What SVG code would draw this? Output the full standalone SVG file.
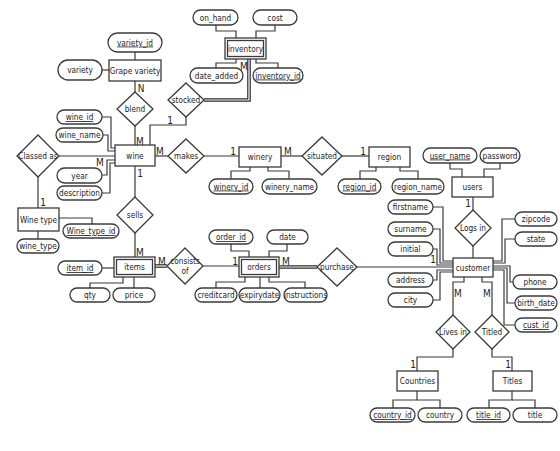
<svg xmlns="http://www.w3.org/2000/svg" width="560" height="451" viewBox="0 0 560 451">
<style>
.a{fill:#fff;stroke:#3a3a3a;stroke-width:1.3}
.e{fill:#fff;stroke:#3a3a3a;stroke-width:1.3}
.r{fill:#fff;stroke:#3a3a3a;stroke-width:1.3}
.c{fill:none;stroke:#3a3a3a;stroke-width:1.2}
.d1{fill:none;stroke:#2a2a2a;stroke-width:3.6}
.d2{fill:none;stroke:#fff;stroke-width:1.2}
text{font-family:"Liberation Sans Narrow","DejaVu Sans Condensed","Liberation Sans",sans-serif;font-size:8.2px;fill:#222;text-anchor:middle}
.k{text-decoration:underline}
.lb{font-size:10px}
</style>
<rect width="560" height="451" fill="#fff"/>
<g id="connectors">
<polyline class="c" points="135,52 135,60"/>
<polyline class="c" points="102,70 109,70"/>
<polyline class="c" points="135,81 135,92"/>
<polyline class="c" points="135,126 135,145"/>
<polyline class="c" points="150,145 150,125 186,125 186,117"/>
<polyline class="c" points="216,25 216,31 236,31 236,38"/>
<polyline class="c" points="275,25 275,31 256,31 256,38"/>
<polyline class="c" points="216,68 216,63 236,63 236,59"/>
<polyline class="c" points="278,68 278,63 256,63 256,59"/>
<polyline class="c" points="102,117 111,117 111,148 115,148"/>
<polyline class="c" points="103,135 108,135 108,151 115,151"/>
<polyline class="c" points="59,156 115,156"/>
<polyline class="c" points="102,175 107,175 107,160 115,160"/>
<polyline class="c" points="102,193 110,193 110,163 115,163"/>
<polyline class="c" points="38,177 38,208"/>
<polyline class="c" points="59,218 92,218 92,224"/>
<polyline class="c" points="38,231 38,239"/>
<polyline class="c" points="155,156 168,156"/>
<polyline class="c" points="204,156 239,156"/>
<polyline class="c" points="281,156 302,156"/>
<polyline class="c" points="342,156 369,156"/>
<polyline class="c" points="250,167 250,171 231,171 231,179"/>
<polyline class="c" points="268,167 268,171 289,171 289,179"/>
<polyline class="c" points="376,167 376,171 360,171 360,179"/>
<polyline class="c" points="400,167 400,171 418,171 418,179"/>
<polyline class="c" points="450,163 450,169 462,169 462,177"/>
<polyline class="c" points="500,163 500,169 484,169 484,177"/>
<polyline class="c" points="473,197 473,210"/>
<polyline class="c" points="473,246 473,258"/>
<polyline class="c" points="135,166 135,197"/>
<polyline class="c" points="135,233 135,257"/>
<polyline class="c" points="102,268 114,268"/>
<polyline class="c" points="90,288 90,283 123,283 123,277"/>
<polyline class="c" points="134,288 134,277"/>
<polyline class="c" points="203,266 239,266"/>
<polyline class="c" points="231,244 231,251 249,251 249,257"/>
<polyline class="c" points="287,244 287,251 269,251 269,257"/>
<polyline class="c" points="216,288 216,282 245,282 245,277"/>
<polyline class="c" points="260,277 260,288"/>
<polyline class="c" points="305,288 305,282 269,282 269,277"/>
<polyline class="c" points="357,267 453,267"/>
<polyline class="c" points="433,207 443,207 443,261 453,261"/>
<polyline class="c" points="433,229 440,229 440,263 453,263"/>
<polyline class="c" points="433,249 437,249 437,265 453,265"/>
<polyline class="c" points="433,280 437,280 437,270 453,270"/>
<polyline class="c" points="433,300 440,300 440,272 453,272"/>
<polyline class="c" points="515,219 502,219 502,261 493,261"/>
<polyline class="c" points="515,239 505,239 505,263 493,263"/>
<polyline class="c" points="493,266 510,266 510,282 513,282"/>
<polyline class="c" points="493,268 507,268 507,303 515,303"/>
<polyline class="c" points="493,270 504,270 504,325 515,325"/>
<polyline class="c" points="464,277 464,282 453,282 453,315"/>
<polyline class="c" points="482,277 482,282 492,282 492,315"/>
<polyline class="c" points="453,349 453,357 417,357 417,371"/>
<polyline class="c" points="492,349 492,357 512,357 512,371"/>
<polyline class="c" points="417,391 417,400 393,400 393,408"/>
<polyline class="c" points="417,400 440,400 440,408"/>
<polyline class="c" points="512,391 512,400 489,400 489,408"/>
<polyline class="c" points="512,400 535,400 535,408"/>
<polyline class="d1" points="204,100 249,100 249,59"/>
<polyline class="d2" points="204,100 249,100 249,59"/>
<polyline class="d1" points="155,266 167,266"/>
<polyline class="d2" points="155,266 167,266"/>
<polyline class="d1" points="279,267 317,267"/>
<polyline class="d2" points="279,267 317,267"/>
<text class="lb" x="141" y="92">N</text>
<text class="lb" x="140" y="145">M</text>
<text class="lb" x="170" y="124">1</text>
<text class="lb" x="244" y="70">M</text>
<text class="lb" x="160" y="155">M</text>
<text class="lb" x="233" y="155">1</text>
<text class="lb" x="288" y="155">M</text>
<text class="lb" x="363" y="155">1</text>
<text class="lb" x="100" y="166">M</text>
<text class="lb" x="43" y="206">1</text>
<text class="lb" x="140" y="177">1</text>
<text class="lb" x="140" y="256">M</text>
<text class="lb" x="162" y="265">M</text>
<text class="lb" x="235" y="265">1</text>
<text class="lb" x="286" y="265">M</text>
<text class="lb" x="433" y="263">1</text>
<text class="lb" x="468" y="207">1</text>
<text class="lb" x="458" y="297">M</text>
<text class="lb" x="487" y="297">M</text>
<text class="lb" x="413" y="368">1</text>
<text class="lb" x="508" y="368">1</text>
</g>
<g id="variety_id"><rect class="a" x="108" y="33" width="54" height="19" rx="9.5"/><text class="k" x="135" y="45.5">variety_id</text></g>
<g id="variety"><rect class="a" x="58" y="60" width="44" height="20" rx="10"/><text x="80" y="73">variety</text></g>
<g id="grape_variety"><rect class="e" x="109" y="60" width="52" height="21"/><text x="135" y="73.5">Grape variety</text></g>
<g id="blend"><polygon class="r" points="135,92 153,109 135,126 117,109"/><text x="135" y="112">blend</text></g>
<g id="stocked"><polygon class="r" points="186,83 204,100 186,117 168,100"/><text x="186" y="103">stocked</text></g>
<g id="inventory"><rect class="e" x="225" y="38" width="41" height="21"/><rect class="e" x="227.5" y="40.5" width="36" height="16"/><text x="245.5" y="51.5">inventory</text></g>
<g id="on_hand"><rect class="a" x="193" y="10" width="45" height="15" rx="7.5"/><text x="215.5" y="20.5">on_hand</text></g>
<g id="cost"><rect class="a" x="253" y="10" width="44" height="15" rx="7.5"/><text x="275" y="20.5">cost</text></g>
<g id="date_added"><rect class="a" x="190" y="68" width="53" height="15" rx="7.5"/><text x="216.5" y="78.5">date_added</text></g>
<g id="inventory_id"><rect class="a" x="253" y="68" width="50" height="15" rx="7.5"/><text class="k" x="278" y="78.5">inventory_id</text></g>
<g id="wine_id"><rect class="a" x="57" y="110" width="45" height="14" rx="7"/><text class="k" x="79.5" y="120">wine_id</text></g>
<g id="wine_name"><rect class="a" x="56" y="128" width="47" height="14" rx="7"/><text x="79.5" y="138">wine_name</text></g>
<g id="year"><rect class="a" x="57" y="168" width="45" height="15" rx="7.5"/><text x="79.5" y="178.5">year</text></g>
<g id="description"><rect class="a" x="57" y="186" width="45" height="14" rx="7"/><text x="79.5" y="196">description</text></g>
<g id="wine"><rect class="e" x="115" y="145" width="40" height="21"/><text x="135" y="158.5">wine</text></g>
<g id="classed_as"><polygon class="r" points="38,135 59,156 38,177 17,156"/><text x="38" y="159">Classed as</text></g>
<g id="wine_type_entity"><rect class="e" x="18" y="208" width="41" height="23"/><text x="38.5" y="222.5">Wine type</text></g>
<g id="wine_type_id"><rect class="a" x="63" y="224" width="56" height="14" rx="7"/><text class="k" x="91" y="234">Wine_type_id</text></g>
<g id="wine_type"><rect class="a" x="17" y="239" width="42" height="14" rx="7"/><text x="38" y="249">wine_type</text></g>
<g id="makes"><polygon class="r" points="186,139 204,156 186,173 168,156"/><text x="186" y="159">makes</text></g>
<g id="winery"><rect class="e" x="239" y="147" width="42" height="20"/><text x="260" y="160">winery</text></g>
<g id="winery_id"><rect class="a" x="209" y="179" width="44" height="15" rx="7.5"/><text class="k" x="231" y="189.5">winery_id</text></g>
<g id="winery_name"><rect class="a" x="262" y="179" width="55" height="15" rx="7.5"/><text x="289.5" y="189.5">winery_name</text></g>
<g id="situated"><polygon class="r" points="322,137 342,156 322,175 302,156"/><text x="322" y="159">situated</text></g>
<g id="region"><rect class="e" x="369" y="147" width="41" height="20"/><text x="389.5" y="160">region</text></g>
<g id="region_id"><rect class="a" x="338" y="179" width="43" height="15" rx="7.5"/><text class="k" x="359.5" y="189.5">region_id</text></g>
<g id="region_name"><rect class="a" x="392" y="179" width="52" height="15" rx="7.5"/><text x="418" y="189.5">region_name</text></g>
<g id="user_name"><rect class="a" x="423" y="148" width="54" height="15" rx="7.5"/><text class="k" x="450" y="158.5">user_name</text></g>
<g id="password"><rect class="a" x="480" y="148" width="40" height="15" rx="7.5"/><text x="500" y="158.5">password</text></g>
<g id="users"><rect class="e" x="452" y="177" width="41" height="20"/><text x="472.5" y="190">users</text></g>
<g id="logs_in"><polygon class="r" points="473,210 491,228 473,246 455,228"/><text x="473" y="231">Logs in</text></g>
<g id="customer"><rect class="e" x="453" y="258" width="40" height="19"/><text x="473" y="270.5">customer</text></g>
<g id="firstname"><rect class="a" x="388" y="200" width="45" height="14" rx="7"/><text x="410.5" y="210">firstname</text></g>
<g id="surname"><rect class="a" x="388" y="222" width="45" height="14" rx="7"/><text x="410.5" y="232">surname</text></g>
<g id="initial"><rect class="a" x="388" y="242" width="45" height="14" rx="7"/><text x="410.5" y="252">initial</text></g>
<g id="address"><rect class="a" x="388" y="273" width="45" height="14" rx="7"/><text x="410.5" y="283">address</text></g>
<g id="city"><rect class="a" x="388" y="293" width="45" height="14" rx="7"/><text x="410.5" y="303">city</text></g>
<g id="zipcode"><rect class="a" x="515" y="212" width="42" height="14" rx="7"/><text x="536" y="222">zipcode</text></g>
<g id="state"><rect class="a" x="515" y="232" width="42" height="14" rx="7"/><text x="536" y="242">state</text></g>
<g id="phone"><rect class="a" x="513" y="275" width="44" height="14" rx="7"/><text x="535" y="285">phone</text></g>
<g id="birth_date"><rect class="a" x="515" y="296" width="42" height="14" rx="7"/><text x="536" y="306">birth_date</text></g>
<g id="cust_id"><rect class="a" x="515" y="318" width="42" height="14" rx="7"/><text class="k" x="536" y="328">cust_id</text></g>
<g id="sells"><polygon class="r" points="135,197 153,215 135,233 117,215"/><text x="135" y="218">sells</text></g>
<g id="items"><rect class="e" x="114" y="257" width="41" height="20"/><rect class="e" x="116.5" y="259.5" width="36" height="15"/><text x="134.5" y="270">items</text></g>
<g id="item_id"><rect class="a" x="58" y="261" width="44" height="14" rx="7"/><text class="k" x="80" y="271">item_id</text></g>
<g id="qty"><rect class="a" x="70" y="288" width="40" height="14" rx="7"/><text x="90" y="298">qty</text></g>
<g id="price"><rect class="a" x="113" y="288" width="42" height="14" rx="7"/><text x="134" y="298">price</text></g>
<g id="consists_of"><polygon class="r" points="185,248 203,266 185,284 167,266"/><text x="185" y="264">consists</text><text x="185" y="273.5">of</text></g>
<g id="orders"><rect class="e" x="239" y="257" width="40" height="20"/><rect class="e" x="241.5" y="259.5" width="35" height="15"/><text x="259" y="270">orders</text></g>
<g id="order_id"><rect class="a" x="209" y="230" width="44" height="14" rx="7"/><text class="k" x="231" y="240">order_id</text></g>
<g id="date"><rect class="a" x="267" y="230" width="41" height="14" rx="7"/><text x="287.5" y="240">date</text></g>
<g id="creditcard"><rect class="a" x="195" y="288" width="42" height="14" rx="7"/><text x="216" y="298">creditcard</text></g>
<g id="expirydate"><rect class="a" x="239" y="288" width="41" height="14" rx="7"/><text x="259.5" y="298">expirydate</text></g>
<g id="instructions"><rect class="a" x="284" y="288" width="43" height="14" rx="7"/><text x="305.5" y="298">instructions</text></g>
<g id="purchase"><polygon class="r" points="337,248 357,267 337,286 317,267"/><text x="337" y="270">purchase</text></g>
<g id="lives_in"><polygon class="r" points="453,315 470,332 453,349 436,332"/><text x="453" y="335">Lives in</text></g>
<g id="titled"><polygon class="r" points="492,315 509,332 492,349 475,332"/><text x="492" y="335">Titled</text></g>
<g id="countries"><rect class="e" x="397" y="371" width="41" height="20"/><text x="417.5" y="384">Countries</text></g>
<g id="titles"><rect class="e" x="493" y="371" width="39" height="20"/><text x="512.5" y="384">Titles</text></g>
<g id="country_id"><rect class="a" x="370" y="408" width="45" height="14" rx="7"/><text class="k" x="392.5" y="418">country_id</text></g>
<g id="country"><rect class="a" x="418" y="408" width="44" height="14" rx="7"/><text x="440" y="418">country</text></g>
<g id="title_id"><rect class="a" x="467" y="408" width="43" height="14" rx="7"/><text class="k" x="488.5" y="418">title_id</text></g>
<g id="title"><rect class="a" x="513" y="408" width="44" height="14" rx="7"/><text x="535" y="418">title</text></g>
</svg>
